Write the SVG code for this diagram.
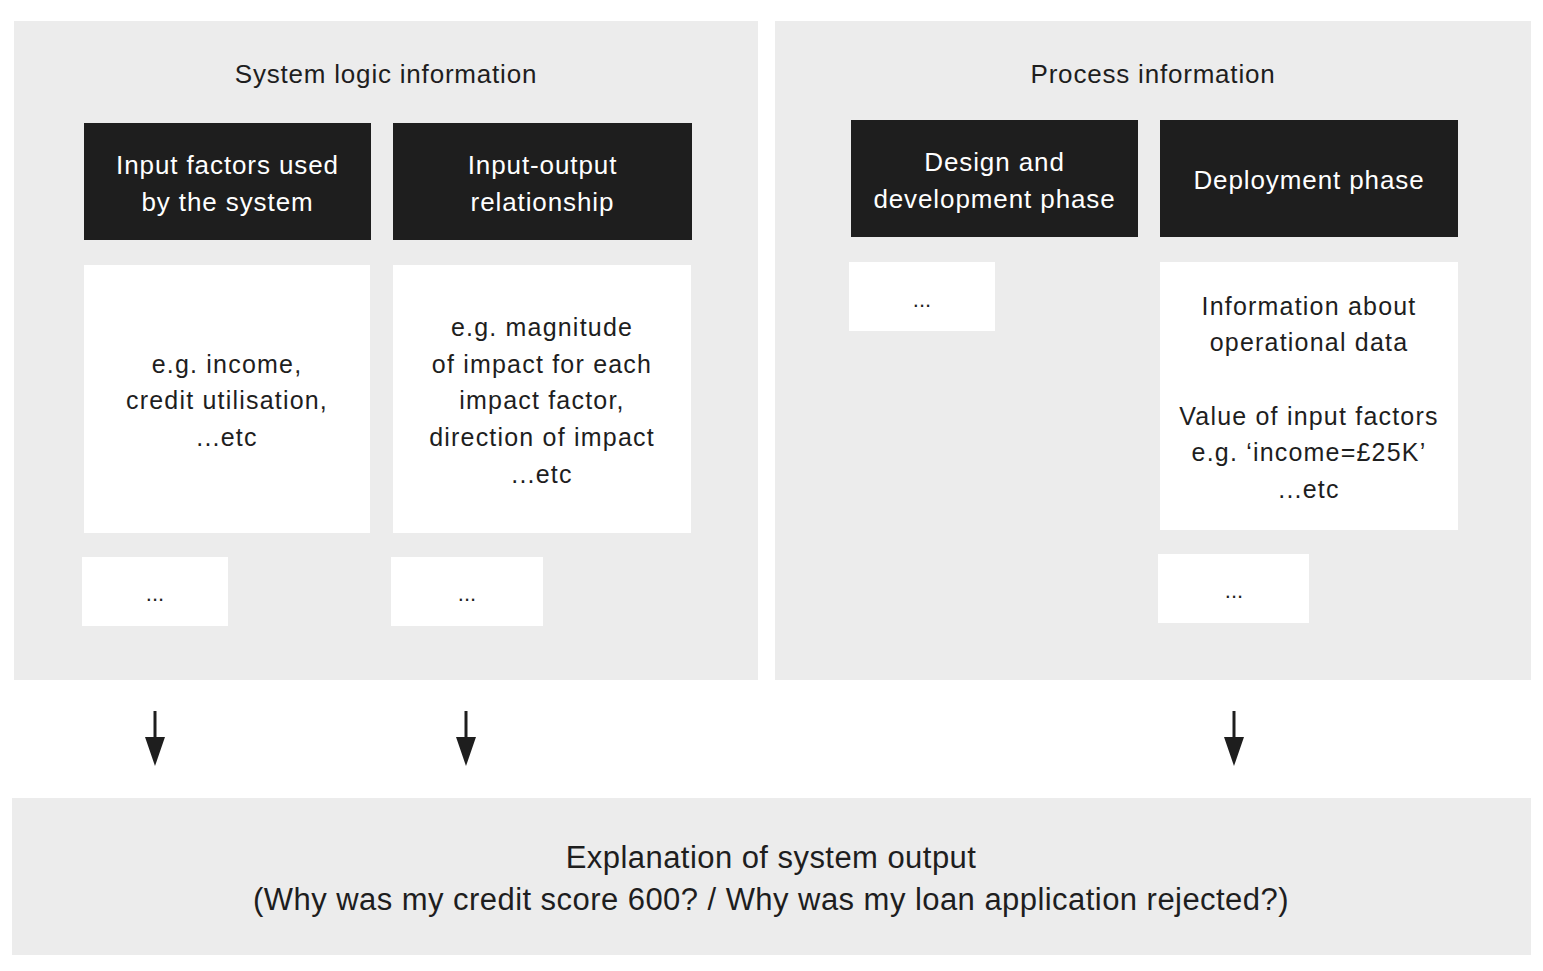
<svg xmlns="http://www.w3.org/2000/svg" width="1543" height="971" viewBox="0 0 1543 971">
<style>
.panel{fill:#ececec}
.dark{fill:#1e1e1e}
.white{fill:#ffffff}
text{font-family:"Liberation Sans",Arial,sans-serif;text-anchor:middle}
.t{fill:#1e1e1e;font-size:26px;letter-spacing:0.8px}
.h{fill:#ffffff;font-size:26px;letter-spacing:0.9px}
.b{fill:#1e1e1e;font-size:25px;letter-spacing:1.2px}
.e{fill:#1e1e1e;font-size:22px}
.big{fill:#1e1e1e;font-size:31px;letter-spacing:0.45px}
.arr{stroke:#1e1e1e;stroke-width:3;fill:none}
.head{fill:#1e1e1e}
</style>
<rect width="1543" height="971" fill="#ffffff"/>
<g id="panel-system-logic">
<rect class="panel" x="14" y="21" width="744" height="659"/>
<text class="t" x="386" y="83">System logic information</text>
</g>
<g id="panel-process">
<rect class="panel" x="775" y="21" width="756" height="659"/>
<text class="t" x="1153" y="83">Process information</text>
</g>
<g id="input-factors">
<rect class="dark" x="84" y="123" width="287" height="117"/>
<text class="h" x="227.5" y="174">Input factors used</text>
<text class="h" x="227.5" y="211">by the system</text>
</g>
<g id="input-output">
<rect class="dark" x="393" y="123" width="299" height="117"/>
<text class="h" x="542.5" y="174">Input-output</text>
<text class="h" x="542.5" y="211">relationship</text>
</g>
<g id="design-dev">
<rect class="dark" x="851" y="120" width="287" height="117"/>
<text class="h" x="994.5" y="171">Design and</text>
<text class="h" x="994.5" y="208">development phase</text>
</g>
<g id="deployment">
<rect class="dark" x="1160" y="120" width="298" height="117"/>
<text class="h" x="1309" y="189">Deployment phase</text>
</g>
<g id="input-factors-detail">
<rect class="white" x="84" y="265" width="286" height="268"/>
<text class="b" x="227" y="373">e.g. income,</text>
<text class="b" x="227" y="409">credit utilisation,</text>
<text class="b" x="227" y="446">...etc</text>
</g>
<g id="input-output-detail">
<rect class="white" x="393" y="265" width="298" height="268"/>
<text class="b" x="542" y="336">e.g. magnitude</text>
<text class="b" x="542" y="373">of impact for each</text>
<text class="b" x="542" y="409">impact factor,</text>
<text class="b" x="542" y="446">direction of impact</text>
<text class="b" x="542" y="483">...etc</text>
</g>
<g id="design-dev-detail">
<rect class="white" x="849" y="262" width="146" height="69"/>
<text class="e" x="922" y="307">...</text>
</g>
<g id="deployment-detail">
<rect class="white" x="1160" y="262" width="298" height="268"/>
<text class="b" x="1309" y="315">Information about</text>
<text class="b" x="1309" y="351">operational data</text>
<text class="b" x="1309" y="425">Value of input factors</text>
<text class="b" x="1309" y="461">e.g. ‘income=£25K’</text>
<text class="b" x="1309" y="498">...etc</text>
</g>
<g id="more-1">
<rect class="white" x="82" y="557" width="146" height="69"/>
<text class="e" x="155" y="601">...</text>
</g>
<g id="more-2">
<rect class="white" x="391" y="557" width="152" height="69"/>
<text class="e" x="467" y="601">...</text>
</g>
<g id="more-3">
<rect class="white" x="1158" y="554" width="151" height="69"/>
<text class="e" x="1234" y="598">...</text>
</g>
<g id="explanation">
<rect class="panel" x="12" y="798" width="1519" height="157"/>
<text class="big" x="771" y="868">Explanation of system output</text>
<text class="big" x="771" y="910">(Why was my credit score 600? / Why was my loan application rejected?)</text>
</g>
<g id="connectors">
<line class="arr" x1="155" y1="711" x2="155" y2="740"/>
<polygon class="head" points="145,737 165,737 155,766"/>
<line class="arr" x1="466" y1="711" x2="466" y2="740"/>
<polygon class="head" points="456,737 476,737 466,766"/>
<line class="arr" x1="1234" y1="711" x2="1234" y2="740"/>
<polygon class="head" points="1224,737 1244,737 1234,766"/>
</g>
</svg>
